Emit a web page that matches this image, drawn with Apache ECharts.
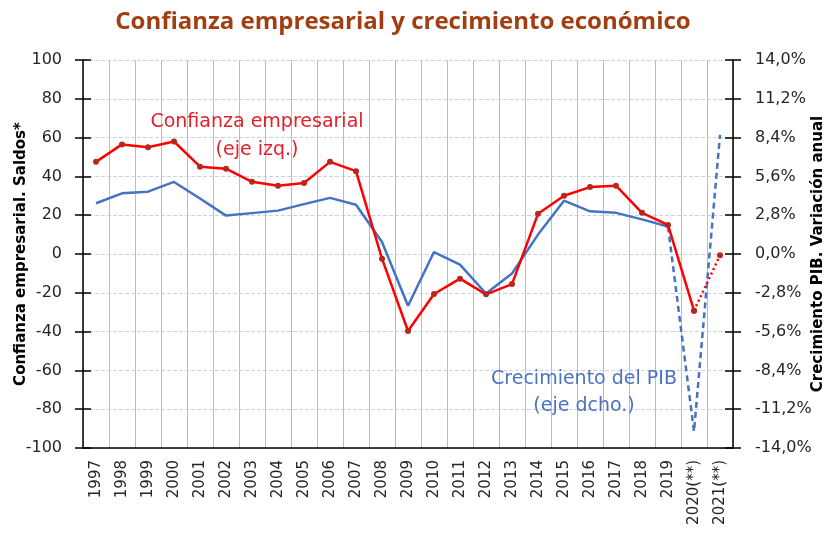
<!DOCTYPE html>
<html>
<head>
<meta charset="utf-8">
<script src="https://cdn.jsdelivr.net/npm/echarts@6/dist/echarts.min.js"></script>
<style>
  html, body { margin: 0; padding: 0; background: #fff; }
  #chart { width: 830px; height: 535px; }
</style>
</head>
<body>
<div id="chart"></div>
<script>
const years = ['1997', '1998', '1999', '2000', '2001', '2002', '2003', '2004', '2005', '2006',
  '2007', '2008', '2009', '2010', '2011', '2012', '2013', '2014', '2015', '2016',
  '2017', '2018', '2019', '2020(**)', '2021(**)']

// confianza empresarial, saldos (eje izq.)
const confianza = [47.5, 56.5, 55, 58, 45, 44, 37.2, 35.2, 36.6, 47.5,
  42.7, -2.4, -39.7, -20.6, -12.7, -20.8, -15.5, 20.7, 30, 34.5,
  35.2, 21.2, 15, -29.2, -0.7]

// crecimiento del PIB, % (eje dcho.)
const pib = [3.66, 4.38, 4.5, 5.2, 4.0, 2.77, 2.95, 3.13, 3.6, 4.05,
  3.56, 0.86, -3.74, 0.14, -0.77, -2.85, -1.41, 1.4, 3.85, 3.08,
  2.97, 2.5, 1.98, -12.8, 8.6]

// last observed year: after it the lines are estimates
const lastReal = 22

const confSolid = confianza.map((v, i) => (i <= lastReal + 1 ? v : null))
const confEst = confianza.map((v, i) => (i >= lastReal + 1 ? v : null))
const pibSolid = pib.map((v, i) => (i <= lastReal ? v : null))
const pibEst = pib.map((v, i) => (i >= lastReal ? v : null))

const chart = echarts.init(document.getElementById('chart'))

const tickFont = { fontFamily: 'DejaVu Sans', fontSize: 16, color: '#262626' }
const tickLine = { color: '#000', width: 1.5 }

const note = (text, x, y, fill) => ({
  type: 'text', silent: true, x: x, y: y, z: 100,
  style: { text: text, align: 'center', verticalAlign: 'middle',
    fontFamily: 'DejaVu Sans', fontSize: 19, fill: fill }
})

const option = {
  animation: false,
  title: {
    text: 'Confianza empresarial y crecimiento económico',
    left: 398,
    textAlign: 'center',
    top: 5,
    textStyle: { fontFamily: 'Open Sans', fontWeight: 'bold', fontSize: 24, color: '#a33d12' }
  },
  grid: { left: 83, right: 97, top: 60, bottom: 87, outerBoundsMode: 'none', containLabel: false },
  xAxis: {
    type: 'category',
    data: years,
    boundaryGap: true,
    axisLine: { onZero: false, lineStyle: { color: '#000', width: 1.5 } },
    axisTick: { show: false },
    axisLabel: { rotate: 90, interval: 0, margin: 12, fontFamily: 'DejaVu Sans', fontSize: 15, color: '#262626' },
    splitLine: { show: true, interval: 0, lineStyle: { color: '#bdbdbd', width: 1 } }
  },
  yAxis: [
    {
      type: 'value',
      position: 'left',
      min: -100,
      max: 100,
      interval: 20,
      name: 'Confianza empresarial. Saldos*',
      nameLocation: 'middle',
      nameGap: 54,
      nameMoveOverlap: false,
      nameTextStyle: { fontFamily: 'DejaVu Sans', fontWeight: 'bold', fontSize: 15, color: '#000' },
      axisLine: { show: true, lineStyle: tickLine },
      axisTick: { show: true, length: 8, lineStyle: tickLine },
      axisLabel: Object.assign({ margin: 21 }, tickFont),
      splitLine: { show: true, lineStyle: { color: '#c9d3ea', type: 'dashed', width: 1 } }
    },
    {
      type: 'value',
      position: 'right',
      min: -14,
      max: 14,
      interval: 2.8,
      name: 'Crecimiento PIB. Variación anual',
      nameLocation: 'middle',
      nameGap: 78,
      nameRotate: 90,
      nameMoveOverlap: false,
      nameTextStyle: { fontFamily: 'DejaVu Sans', fontWeight: 'bold', fontSize: 15, color: '#000' },
      axisLine: { show: true, lineStyle: tickLine },
      axisTick: { show: true, length: 8, lineStyle: tickLine },
      axisLabel: Object.assign({
        margin: 22,
        formatter: (v) => v.toFixed(1).replace('.', ',') + '%'
      }, tickFont),
      splitLine: { show: false }
    },
    {
      type: 'value',
      position: 'left',
      min: -100,
      max: 100,
      interval: 20,
      axisLine: { show: false },
      axisTick: { show: true, inside: true, length: 8, lineStyle: tickLine },
      axisLabel: { show: false },
      splitLine: { show: false }
    },
    {
      type: 'value',
      position: 'right',
      min: -14,
      max: 14,
      interval: 2.8,
      axisLine: { show: false },
      axisTick: { show: true, inside: true, length: 8, lineStyle: tickLine },
      axisLabel: { show: false },
      splitLine: { show: false }
    }
  ],
  series: [
    {
      name: 'PIB',
      type: 'line',
      yAxisIndex: 1,
      data: pibSolid,
      symbol: 'none',
      lineStyle: { color: '#4472c4', width: 2.5 },
      z: 2
    },
    {
      name: 'PIB est.',
      type: 'line',
      yAxisIndex: 1,
      data: pibEst,
      symbol: 'none',
      lineStyle: { color: '#4472c4', width: 2.5, type: [6, 4] },
      z: 2
    },
    {
      name: 'Confianza',
      type: 'line',
      yAxisIndex: 0,
      data: confSolid,
      symbol: 'circle',
      symbolSize: 6,
      itemStyle: { color: '#b5281c' },
      lineStyle: { color: '#ff0000', width: 2.5 },
      z: 3
    },
    {
      name: 'Confianza est.',
      type: 'line',
      yAxisIndex: 0,
      data: confEst,
      symbol: 'circle',
      symbolSize: 6,
      itemStyle: { color: '#b5281c' },
      lineStyle: { color: '#ff0000', width: 2.5, type: [2, 3] },
      z: 3
    }
  ],
  graphic: [
    note('Confianza empresarial', 257, 122, '#e2202a'),
    note('(eje izq.)', 257, 150, '#e2202a'),
    note('Crecimiento del PIB', 584, 379, '#4a72c0'),
    note('(eje dcho.)', 584, 406, '#4a72c0')
  ]
}

chart.setOption(option)
</script>
</body>
</html>
